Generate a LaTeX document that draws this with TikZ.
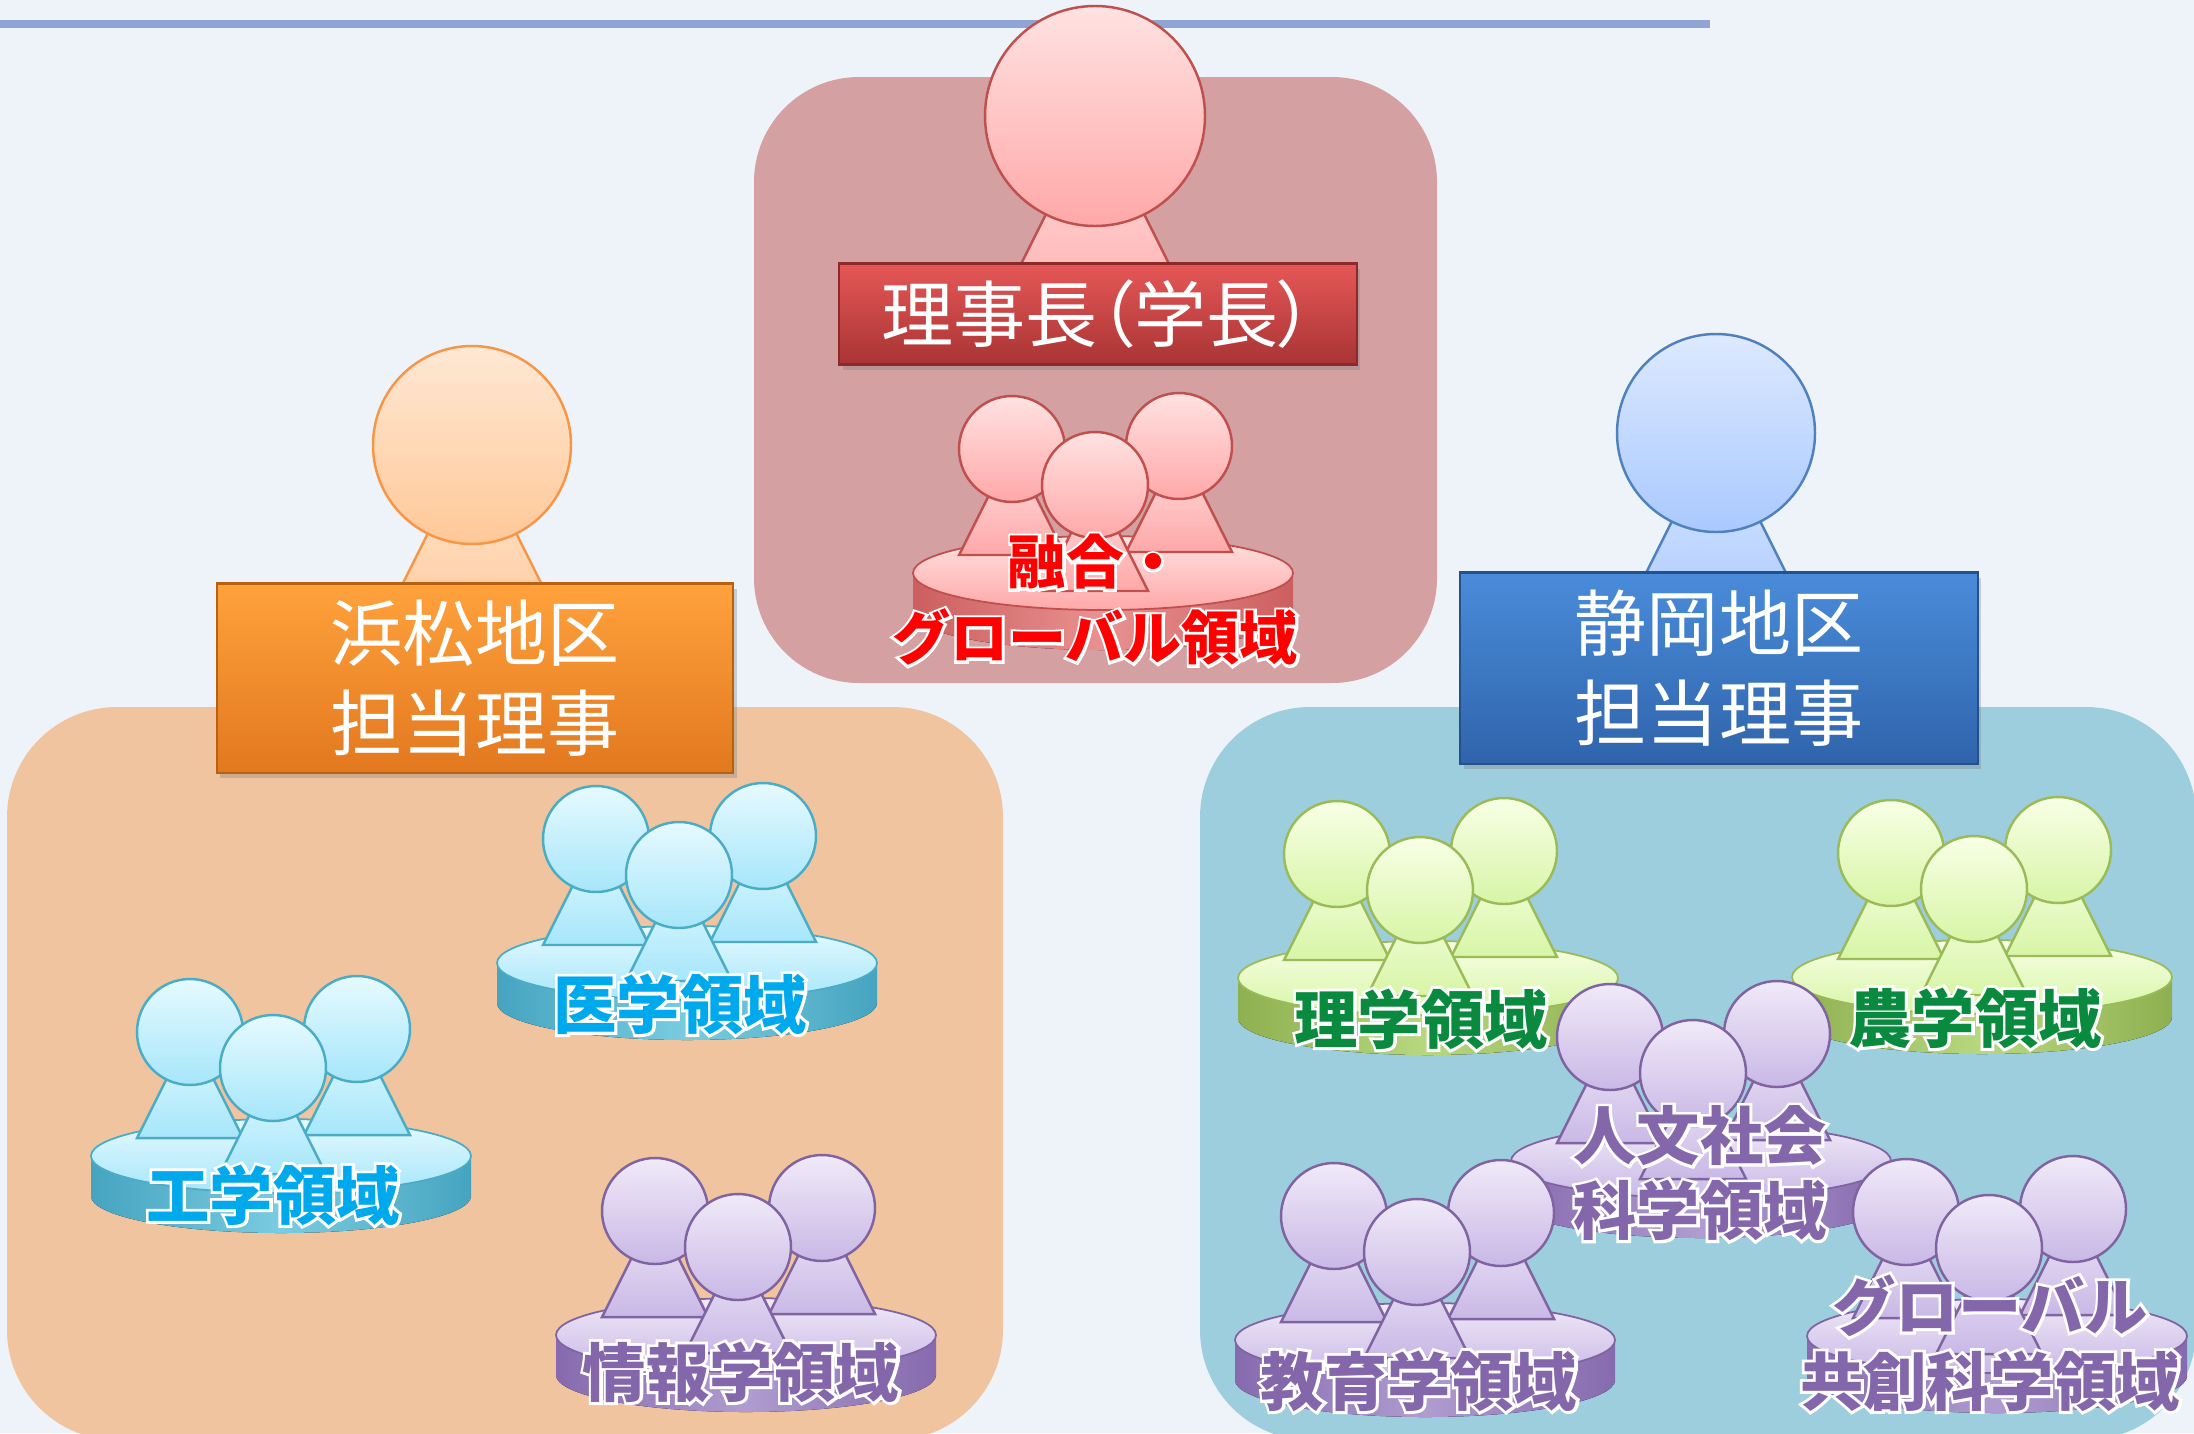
\documentclass[tikz,border=0pt]{standalone}
\usepackage{fontspec}
\usepackage{tikz}
\usetikzlibrary{shadows}
\newfontfamily\jp{Noto Sans CJK JP}
\newfontfamily\jpnarrow[RawFeature=+palt]{Noto Sans CJK JP}
\newfontfamily\jprim[FakeBold=9, BoldFeatures={FakeBold=9}]{Noto Sans CJK JP}
\definecolor{BgTint}{HTML}{EEF2F9}
\definecolor{RuleBlue}{HTML}{8FA5D3}
\definecolor{PanelRose}{HTML}{D5A0A2}
\definecolor{PanelPeach}{HTML}{F1C4A0}
\definecolor{PanelAqua}{HTML}{9DCEDE}
% people palettes: Hi/Lo = gradient, Line = outline, Side/Mid = disc rim, Ink = label
\definecolor{roseHi}{HTML}{FFE2E2}
\definecolor{roseLo}{HTML}{FFA8A8}
\definecolor{roseLine}{HTML}{C0504D}
\definecolor{roseSide}{HTML}{CC5F5F}
\definecolor{roseMid}{HTML}{E99191}
\definecolor{roseInk}{HTML}{FF0000}
\definecolor{peachHi}{HTML}{FFE8D4}
\definecolor{peachLo}{HTML}{FFC898}
\definecolor{peachLine}{HTML}{F79646}
\definecolor{blueHi}{HTML}{DDE9FF}
\definecolor{blueLo}{HTML}{A9C9FF}
\definecolor{blueLine}{HTML}{4F81BD}
\definecolor{skyHi}{HTML}{E6FAFF}
\definecolor{skyLo}{HTML}{A6E6FA}
\definecolor{skyLine}{HTML}{4BACC6}
\definecolor{skySide}{HTML}{46A4C0}
\definecolor{skyMid}{HTML}{7ACCE0}
\definecolor{skyInk}{HTML}{00A8EC}
\definecolor{leafHi}{HTML}{F8FFE6}
\definecolor{leafLo}{HTML}{D7F5A6}
\definecolor{leafLine}{HTML}{9BBB59}
\definecolor{leafSide}{HTML}{8FB050}
\definecolor{leafMid}{HTML}{B8D880}
\definecolor{leafInk}{HTML}{0A8A3E}
\definecolor{lilacHi}{HTML}{F0EAF8}
\definecolor{lilacLo}{HTML}{C9B8E6}
\definecolor{lilacLine}{HTML}{8064A2}
\definecolor{lilacSide}{HTML}{866AAE}
\definecolor{lilacMid}{HTML}{B09CD0}
\definecolor{lilacInk}{HTML}{8466AA}
\definecolor{ChiefTop}{HTML}{E65757}
\definecolor{ChiefBot}{HTML}{A93434}
\definecolor{ChiefEdge}{HTML}{8C2A2A}
\definecolor{HamaTop}{HTML}{FFA23C}
\definecolor{HamaBot}{HTML}{E2781F}
\definecolor{HamaEdge}{HTML}{B8610F}
\definecolor{ShizuTop}{HTML}{4A8CDA}
\definecolor{ShizuBot}{HTML}{2F64AB}
\definecolor{ShizuEdge}{HTML}{24508C}

% coloured text on a thick white copy of itself
\newcommand\rimtext[2]{\leavevmode\rlap{\jprim\bfseries\color{white}#2}\textcolor{#1}{#2}}

\tikzset{
  chief/.style={draw, line width=0.6pt, inner sep=0pt, text=white, align=center,
    drop shadow={opacity=0.35, shadow xshift=1pt, shadow yshift=-1.5pt}},
  tag/.style={inner sep=0pt, align=center, font=\jp\bfseries\fontsize{18pt}{21.3pt}\selectfont},
  pics/team/.style={code={
    \fill[left color=#1Side, right color=#1Side, middle color=#1Mid] (0,40) ellipse [x radius=190, y radius=37];
    \fill[left color=#1Side, right color=#1Side, middle color=#1Mid] (-190,0) rectangle (190,40);
    \draw[draw=#1Line, line width=0.5pt, top color=#1Hi, bottom color=#1Lo] (0,0) ellipse [x radius=190, y radius=37];
    \foreach \hx/\hy in {-91/-124, 76/-127, -8/-88}{
      \draw[draw=#1Line, line width=0.7pt, top color=#1Hi, bottom color=#1Lo] (\hx,\hy) -- ++(-53,106) -- ++(106,0) -- cycle;
      \draw[draw=#1Line, line width=0.7pt, top color=#1Hi, bottom color=#1Lo] (\hx,\hy) circle [radius=53];
    }
  }}
}

\begin{document}
\begin{tikzpicture}[x=0.01cm, y=-0.01cm]
  \fill[BgTint] (0,0) rectangle (2194,1433);
  \useasboundingbox (0,0) rectangle (2194,1433);
  \draw[RuleBlue, line width=0.08cm] (0,24) -- (1710,24);

  \fill[PanelRose, rounded corners=1.05cm] (754,77) rectangle (1437,683);
  \fill[PanelPeach, rounded corners=1.1cm] (7,707) rectangle (1003,1440);
  \fill[PanelAqua, rounded corners=1.1cm] (1200,707) rectangle (2196,1440);

  \draw[draw=roseLine, line width=0.7pt, top color=roseHi, bottom color=roseLo] (1095,116) -- ++(-110,220) -- ++(220,0) -- cycle;
  \draw[draw=roseLine, line width=0.7pt, top color=roseHi, bottom color=roseLo] (1095,116) circle [radius=110];
  \draw[draw=peachLine, line width=0.7pt, top color=peachHi, bottom color=peachLo] (472,445) -- ++(-99,198) -- ++(198,0) -- cycle;
  \draw[draw=peachLine, line width=0.7pt, top color=peachHi, bottom color=peachLo] (472,445) circle [radius=99];
  \draw[draw=blueLine, line width=0.7pt, top color=blueHi, bottom color=blueLo] (1716,433) -- ++(-99,198) -- ++(198,0) -- cycle;
  \draw[draw=blueLine, line width=0.7pt, top color=blueHi, bottom color=blueLo] (1716,433) circle [radius=99];

  \node[chief, draw=ChiefEdge, top color=ChiefTop, bottom color=ChiefBot, minimum width=5.17cm, minimum height=1.01cm,
    font=\jpnarrow\fontsize{20.5pt}{24pt}\selectfont] (chief) at (1098,314) {理事長（学長）};
  \node[chief, draw=HamaEdge, top color=HamaTop, bottom color=HamaBot, minimum width=5.16cm, minimum height=1.89cm,
    font=\jp\fontsize{20.5pt}{25.5pt}\selectfont] (hama) at (475,678) {浜松地区\\担当理事};
  \node[chief, draw=ShizuEdge, top color=ShizuTop, bottom color=ShizuBot, minimum width=5.17cm, minimum height=1.91cm,
    font=\jp\fontsize{20.5pt}{25.5pt}\selectfont] (shizu) at (1719,668) {静岡地区\\担当理事};

  \pic at (1103,573) {team=rose};
  \pic at (687,963) {team=sky};
  \pic at (281,1156) {team=sky};
  \pic at (746,1335) {team=lilac};
  \pic at (1428,978) {team=leaf};
  \pic at (1982,977) {team=leaf};
  \pic at (1701,1161) {team=lilac};
  \pic at (1425,1340) {team=lilac};
  \pic at (1997,1336) {team=lilac};

  \node[tag, font=\jp\bfseries\fontsize{16.5pt}{21.6pt}\selectfont] (yugo) at (1095,600)
    {\rimtext{roseInk}{融合・}\\\rimtext{roseInk}{グローバル領域}};
  \node[tag] (igaku) at (680,1004) {\rimtext{skyInk}{医学領域}};
  \node[tag] (kogaku) at (273,1195) {\rimtext{skyInk}{工学領域}};
  \node[tag] (joho) at (741,1372) {\rimtext{lilacInk}{情報学領域}};
  \node[tag] (rigaku) at (1421,1019) {\rimtext{leafInk}{理学領域}};
  \node[tag] (nogaku) at (1975,1018) {\rimtext{leafInk}{農学領域}};
  \node[tag] (jinbun) at (1700,1173) {\rimtext{lilacInk}{人文社会}\\\rimtext{lilacInk}{科学領域}};
  \node[tag] (kyoiku) at (1419,1381) {\rimtext{lilacInk}{教育学領域}};
  \node[tag] (kyoso) at (1990,1343) {\rimtext{lilacInk}{グローバル}\\\rimtext{lilacInk}{共創科学領域}};
\end{tikzpicture}
\end{document}
